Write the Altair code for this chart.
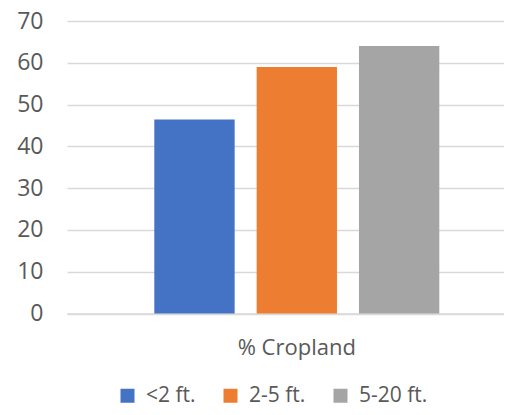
import altair as alt
import pandas as pd

category = ["% Cropland"]
series = ["<2 ft.", "2-5 ft.", "5-20 ft."]
values = [46.4, 59.0, 64.0]
colors = ["#4472C4", "#ED7D31", "#A5A5A5"]
y_ticks = [0, 10, 20, 30, 40, 50, 60, 70]

df = pd.DataFrame({"category": category * len(series), "series": series, "value": values})

FONT = "Open Sans"
TEXT = "#595959"
GRID = "#D9D9D9"

chart = alt.Chart(df).mark_bar().encode(
    x=alt.X(
        "category:N",
        scale=alt.Scale(paddingInner=0, paddingOuter=0.2117, align=0.587),
        axis=alt.Axis(title=None, labelAngle=0, labelFontSize=22, labelColor=TEXT,
                      labelPadding=24, ticks=False, domainColor=GRID, domainWidth=1.5,
                      labelFont=FONT),
    ),
    xOffset=alt.XOffset("series:N", sort=series,
                        scale=alt.Scale(paddingInner=0.215, paddingOuter=0.1075)),
    y=alt.Y(
        "value:Q",
        scale=alt.Scale(domain=[0, 70], nice=False),
        axis=alt.Axis(values=y_ticks, title=None, ticks=False, domain=False,
                      labelFontSize=23, labelColor=TEXT, labelPadding=24,
                      gridColor=GRID, gridWidth=1.5, labelFont=FONT),
    ),
    color=alt.Color(
        "series:N", sort=series,
        scale=alt.Scale(domain=series, range=colors),
        legend=alt.Legend(title=None, orient="none", legendX=50, legendY=364,
                          direction="horizontal", symbolType="square", symbolSize=196,
                          symbolStrokeWidth=0, labelFontSize=21, labelColor=TEXT,
                          labelFont=FONT, columnPadding=24, labelOffset=8, padding=0),
    ),
).properties(
    width=437, height=292.5,
    autosize=alt.AutoSizeParams(type="none"),
    padding={"left": 59, "top": 13, "right": 0, "bottom": 93.5},
).configure_view(stroke=None)

chart.save("out.html", embed_options={"renderer": "svg", "actions": False})
